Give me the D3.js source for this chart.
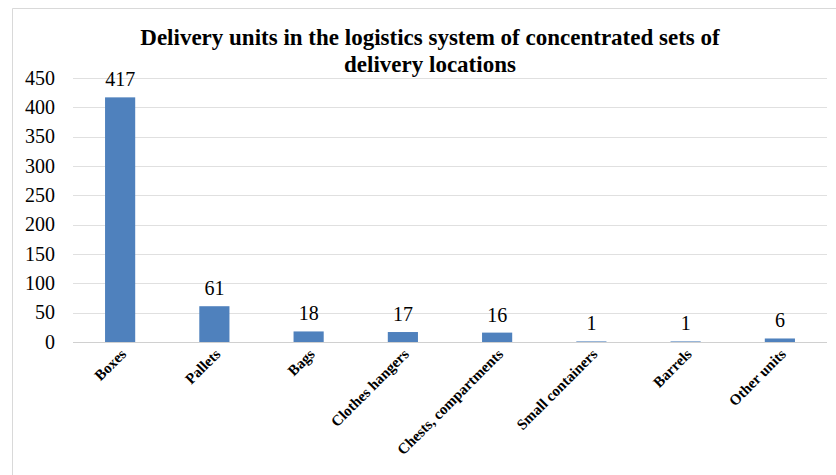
<!DOCTYPE html>
<html>
<head>
<meta charset="utf-8">
<script src="https://cdn.jsdelivr.net/npm/d3@7/dist/d3.min.js"></script>
<style>
  html, body { margin: 0; padding: 0; background: #fff; }
  svg { display: block; }
</style>
</head>
<body>
<svg id="chart" width="836" height="475" style="font-family: 'Liberation Serif', serif"></svg>
<script>
// Delivery units counted in the logistics system
const categories = ["Boxes", "Pallets", "Bags", "Clothes hangers", "Chests, compartments",
                    "Small containers", "Barrels", "Other units"];
const values = [417, 61, 18, 17, 16, 1, 1, 6];
const yTicks = [0, 50, 100, 150, 200, 250, 300, 350, 400, 450];
const titleLines = ["Delivery units in the logistics system of concentrated sets of",
                    "delivery locations"];

const W = 836, H = 475;
const margin = { left: 73, right: 9, top: 78, bottom: 133 };
const svg = d3.select("#chart");

// chart frame (top and left edges visible)
svg.append("path")
  .attr("d", `M12.5,${H} L12.5,8.5 L${W},8.5`)
  .attr("fill", "none")
  .attr("stroke", "#d9d9d9")
  .attr("stroke-width", 1);

const x = d3.scaleBand()
  .domain(categories)
  .range([margin.left, W - margin.right])
  .paddingInner(0.68)
  .paddingOuter(0.34);

const y = d3.scaleLinear()
  .domain([0, 450])
  .range([H - margin.bottom, margin.top]);

// gridlines
svg.append("g")
  .selectAll("line")
  .data(yTicks)
  .join("line")
  .attr("x1", margin.left)
  .attr("x2", W - margin.right)
  .attr("y1", d => Math.round(y(d)) + 0.5)
  .attr("y2", d => Math.round(y(d)) + 0.5)
  .attr("stroke", d => d === 0 ? "#d0d0d0" : "#e0e0e0")
  .attr("stroke-width", 1);

// y axis tick labels, placed with the scale
svg.append("g")
  .selectAll("text")
  .data(yTicks)
  .join("text")
  .attr("x", 55)
  .attr("y", d => y(d))
  .attr("dy", "0.34em")
  .attr("text-anchor", "end")
  .style("font-family", "Liberation Serif")
  .style("font-size", "20px")
  .text(d => d);

// bars
svg.append("g")
  .selectAll("rect")
  .data(values)
  .join("rect")
  .attr("x", (d, i) => x(categories[i]))
  .attr("y", d => y(d))
  .attr("width", x.bandwidth())
  .attr("height", d => y(0) - y(d))
  .attr("fill", "#4f81bd");

// value labels
svg.append("g")
  .selectAll("text")
  .data(values)
  .join("text")
  .attr("x", (d, i) => x(categories[i]) + x.bandwidth() / 2)
  .attr("y", d => y(d) - 11)
  .attr("text-anchor", "middle")
  .style("font-family", "Liberation Serif")
  .style("font-size", "20px")
  .text(d => d);

// category labels, rotated 45 degrees
svg.append("g")
  .selectAll("text")
  .data(categories)
  .join("text")
  .attr("text-anchor", "end")
  .attr("transform", d => `translate(${x(d) + x.bandwidth() / 2 + 7},${y(0) + 13}) rotate(-45)`)
  .style("font-family", "Liberation Serif")
  .style("font-size", "15px")
  .style("font-weight", "bold")
  .text(d => d);

// title
svg.append("g")
  .selectAll("text")
  .data(titleLines)
  .join("text")
  .attr("x", 430)
  .attr("y", (d, i) => 45 + i * 26.5)
  .attr("text-anchor", "middle")
  .style("font-family", "Liberation Serif")
  .style("font-size", "23px")
  .style("font-weight", "bold")
  .text(d => d);
</script>
</body>
</html>
